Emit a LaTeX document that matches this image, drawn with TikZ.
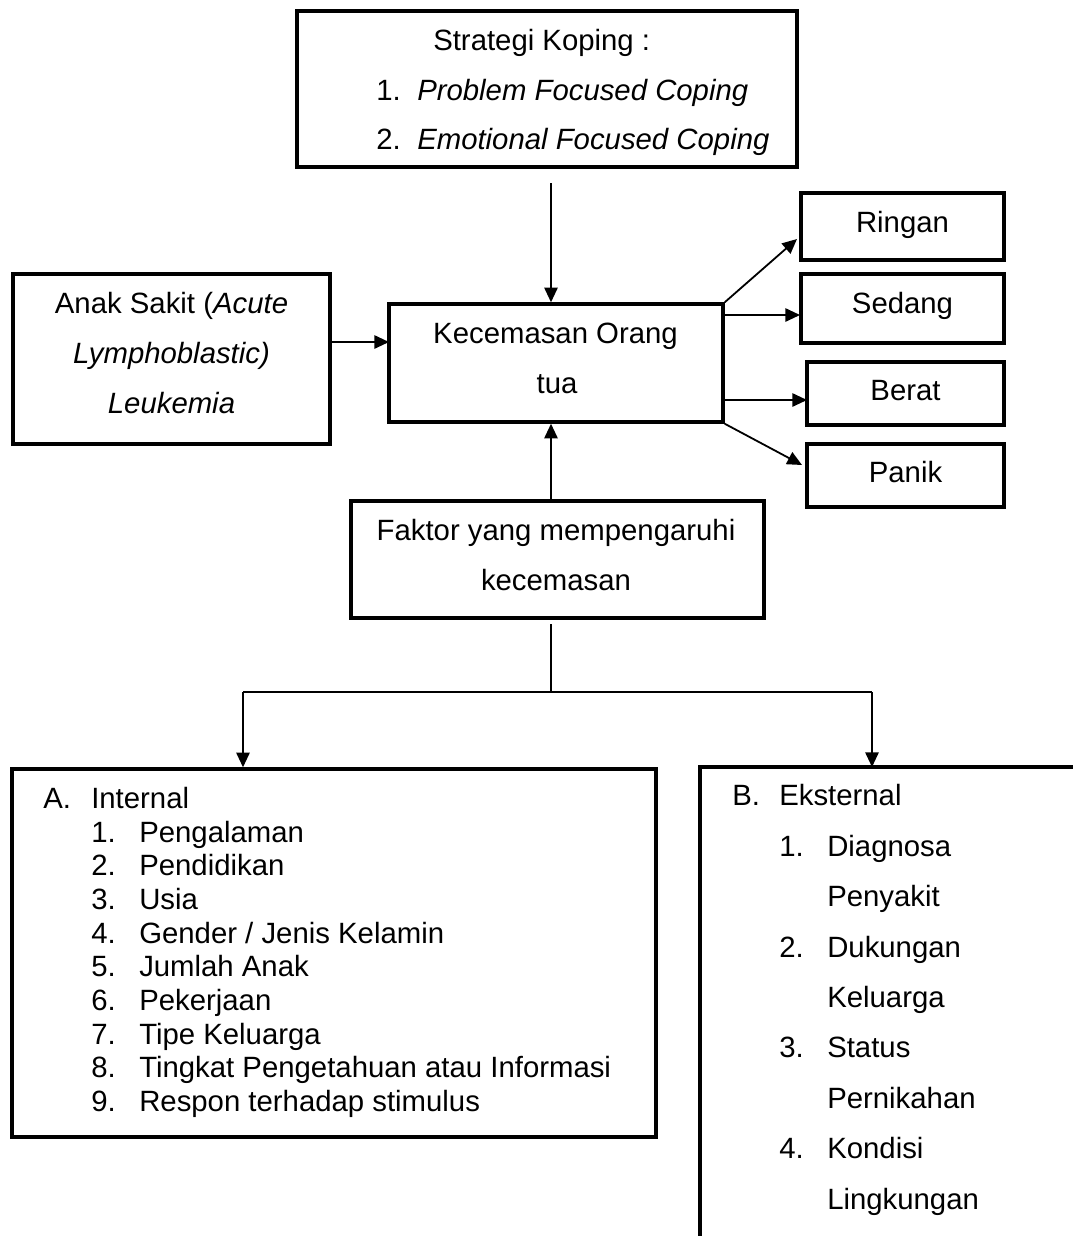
\documentclass[tikz,border=0pt]{standalone}
\usepackage{fontspec}
\setmainfont{Liberation Sans}
\usepackage{tikz}
\usetikzlibrary{arrows.meta}

\begin{document}
\begin{tikzpicture}[x=0.75pt,y=0.75pt,yscale=-1,xscale=1,
    box/.style={draw, line width=2.6pt, inner sep=0pt},
    txt/.style={inner sep=0pt, font=\fontsize{22}{26}\selectfont},
    arr/.style={line width=1.35pt, -{Triangle[length=11pt,width=10pt]}},
    ln/.style={line width=1.35pt}]
    %set diagram size to 1073 x 1236
    \useasboundingbox (0,0) rectangle (1073,1236);

    %Shape: Rectangle
    \node [box, minimum width=375pt, minimum height=117pt] (strat) at (547,89) {};
    %Shape: Rectangle
    \node [box, minimum width=250.5pt, minimum height=88.5pt] (cemas) at (556,363) {};
    %Shape: Rectangle
    \node [box, minimum width=237.75pt, minimum height=127.5pt] (anak) at (171.5,359) {};
    %Shape: Rectangle
    \node [box, minimum width=152.25pt, minimum height=50.25pt] (ringan) at (902.5,226.5) {};
    %Shape: Rectangle
    \node [box, minimum width=152.25pt, minimum height=51.75pt] (sedang) at (902.5,308.5) {};
    %Shape: Rectangle
    \node [box, minimum width=147.75pt, minimum height=47.25pt] (berat) at (905.5,393.5) {};
    %Shape: Rectangle
    \node [box, minimum width=147.75pt, minimum height=47.25pt] (panik) at (905.5,475.5) {};
    %Shape: Rectangle
    \node [box, minimum width=309.75pt, minimum height=87.75pt] (faktor) at (557.5,559.5) {};
    %Shape: Rectangle
    \node [box, minimum width=483pt, minimum height=276pt] (internal) at (334,953) {};
    %Shape: open frame (only top and left side)
    \coordinate (ekstR) at (1073,767);
    \coordinate (ekstTL) at (700,767);
    \coordinate (ekstB) at (700,1236);
    \draw [line width=2.6pt] (ekstR) -- (ekstTL) -- (ekstB);

    %Arrow ends
    \coordinate (topS) at (551,183);
    \coordinate (tipA) at (389,342);
    \coordinate (tipR) at (797,239);
    \coordinate (tipS) at (800,315);
    \coordinate (tipB) at (807,400);
    \coordinate (tipP) at (802,465);
    \coordinate (faktorB) at (551,624);
    \coordinate (split) at (551,692);
    \coordinate (splitL) at (243,692);
    \coordinate (splitR) at (872,692);

    %Straight Lines
    \draw [arr] (topS) -- (cemas.north -| topS);
    %Straight Lines
    \draw [arr] (anak.east |- tipA) -- (tipA);
    %Straight Lines
    \draw [arr] (cemas.north east) -- (tipR);
    %Straight Lines
    \draw [arr] (cemas.east |- tipS) -- (tipS);
    %Straight Lines
    \draw [arr] (cemas.east |- tipB) -- (tipB);
    %Straight Lines
    \draw [arr] (cemas.south east) -- (tipP);
    %Straight Lines
    \draw [arr] (faktor.north -| topS) -- (cemas.south -| topS);
    %Straight Lines
    \draw [ln] (faktorB) -- (split);
    %Straight Lines
    \draw [ln] (splitL) -- (splitR);
    %Straight Lines
    \draw [arr] (splitL) -- (internal.north -| splitL);
    %Straight Lines
    \draw [arr] (splitR) -- (ekstTL -| splitR);

    % Text Node
    \draw (433,50) node [txt, anchor=base west] (strat0) {Strategi Koping :};
    % Text Node
    \draw (376,100) node [txt, anchor=base west] (strat1n) {1.};
    \draw (417,100) node [txt, anchor=base west] (strat1) {\itshape Problem Focused Coping};
    % Text Node
    \draw (376,149) node [txt, anchor=base west] (strat2n) {2.};
    \draw (417,149) node [txt, anchor=base west] (strat2) {\itshape Emotional Focused Coping};

    % Text Node
    \draw (555.5,343) node [txt, anchor=base] (cemas1) {Kecemasan Orang};
    \draw (557,393) node [txt, anchor=base] (cemas2) {tua};

    % Text Node
    \draw (171.5,313) node [txt, anchor=base] (anak1) {Anak Sakit (\textit{Acute}};
    \draw (171.5,363) node [txt, anchor=base] (anak2) {\textit{Lymphoblastic)}};
    \draw (171.5,413) node [txt, anchor=base] (anak3) {\textit{Leukemia}};

    % Text Node
    \draw (902.5,232) node [txt, anchor=base] (ringanT) {Ringan};
    \draw (902.5,313) node [txt, anchor=base] (sedangT) {Sedang};
    \draw (905.5,400) node [txt, anchor=base] (beratT) {Berat};
    \draw (905.5,482) node [txt, anchor=base] (panikT) {Panik};

    % Text Node
    \draw (556,540) node [txt, anchor=base] (faktor1) {Faktor yang mempengaruhi};
    \draw (556,590) node [txt, anchor=base] (faktor2) {kecemasan};

    % Text Node
    \draw (43,808) node [txt, anchor=base west] (intA) {A.};
    \draw (91,808) node [txt, anchor=base west] (intT) {Internal};
    \draw (91,842) node [txt, anchor=base west] (int1n) {1.};
    \draw (139,842) node [txt, anchor=base west] (int1) {Pengalaman};
    \draw (91,875.5) node [txt, anchor=base west] (int2n) {2.};
    \draw (139,875.5) node [txt, anchor=base west] (int2) {Pendidikan};
    \draw (91,909.3) node [txt, anchor=base west] (int3n) {3.};
    \draw (139,909.3) node [txt, anchor=base west] (int3) {Usia};
    \draw (91,943) node [txt, anchor=base west] (int4n) {4.};
    \draw (139,943) node [txt, anchor=base west] (int4) {Gender / Jenis Kelamin};
    \draw (91,976.7) node [txt, anchor=base west] (int5n) {5.};
    \draw (139,976.7) node [txt, anchor=base west] (int5) {Jumlah Anak};
    \draw (91,1010.4) node [txt, anchor=base west] (int6n) {6.};
    \draw (139,1010.4) node [txt, anchor=base west] (int6) {Pekerjaan};
    \draw (91,1044) node [txt, anchor=base west] (int7n) {7.};
    \draw (139,1044) node [txt, anchor=base west] (int7) {Tipe Keluarga};
    \draw (91,1077.8) node [txt, anchor=base west] (int8n) {8.};
    \draw (139,1077.8) node [txt, anchor=base west] (int8) {Tingkat Pengetahuan atau Informasi};
    \draw (91,1111.5) node [txt, anchor=base west] (int9n) {9.};
    \draw (139,1111.5) node [txt, anchor=base west] (int9) {Respon terhadap stimulus};

    % Text Node
    \draw (732,805) node [txt, anchor=base west] (eksB) {B.};
    \draw (779,805) node [txt, anchor=base west] (eksT) {Eksternal};
    \draw (779,856) node [txt, anchor=base west] (eks1n) {1.};
    \draw (827,856) node [txt, anchor=base west] (eks1a) {Diagnosa};
    \draw (827,906) node [txt, anchor=base west] (eks1b) {Penyakit};
    \draw (779,957) node [txt, anchor=base west] (eks2n) {2.};
    \draw (827,957) node [txt, anchor=base west] (eks2a) {Dukungan};
    \draw (827,1007) node [txt, anchor=base west] (eks2b) {Keluarga};
    \draw (779,1057) node [txt, anchor=base west] (eks3n) {3.};
    \draw (827,1057) node [txt, anchor=base west] (eks3a) {Status};
    \draw (827,1108) node [txt, anchor=base west] (eks3b) {Pernikahan};
    \draw (779,1158) node [txt, anchor=base west] (eks4n) {4.};
    \draw (827,1158) node [txt, anchor=base west] (eks4a) {Kondisi};
    \draw (827,1209) node [txt, anchor=base west] (eks4b) {Lingkungan};
\end{tikzpicture}
\end{document}
